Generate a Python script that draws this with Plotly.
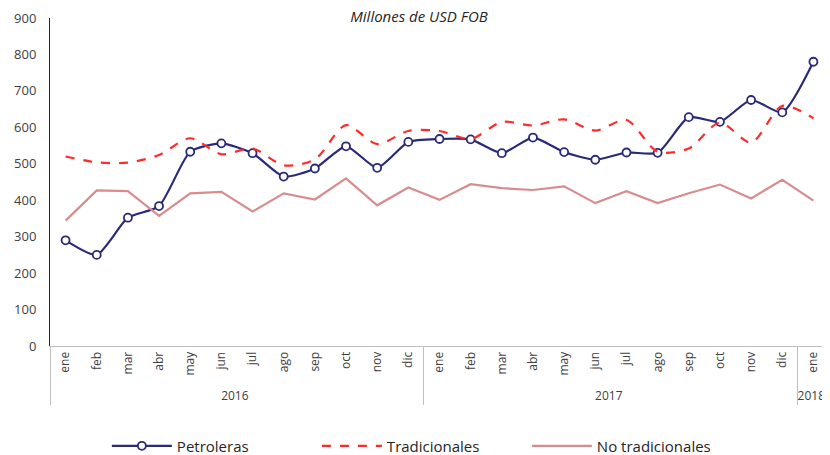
import plotly.graph_objects as go

years = ["2016"] * 12 + ["2017"] * 12 + ["2018"]
months = ["ene", "feb", "mar", "abr", "may", "jun", "jul", "ago", "sep", "oct", "nov", "dic"] * 2 + ["ene"]

petroleras = [290, 250, 352, 384, 533, 556, 529, 465, 487, 548, 489, 560,
              568, 567, 529, 572, 532, 511, 531, 530, 628, 615, 675, 641, 780]
tradicionales = [520, 504, 503, 524, 570, 526, 542, 496, 512, 606, 554, 590,
                 590, 568, 615, 605, 622, 591, 620, 533, 542, 613, 558, 659, 625]
no_tradicionales = [344, 427, 425, 357, 419, 423, 369, 419, 402, 460, 386, 435,
                    401, 444, 433, 428, 438, 392, 425, 392, 419, 443, 405, 456, 399]

x = [years, months]
font_family = "Open Sans, Liberation Sans, sans-serif"

fig = go.Figure()
fig.add_trace(go.Scatter(
    x=x, y=petroleras, name="Petroleras", mode="lines+markers",
    line=dict(color="#2B2A78", width=2.2, shape="spline", smoothing=0.6),
    marker=dict(symbol="circle", size=8, color="white", line=dict(color="#2B2A78", width=1.8)),
))
fig.add_trace(go.Scatter(
    x=x, y=tradicionales, name="Tradicionales", mode="lines",
    line=dict(color="#FF2B2B", width=2.2, dash="dash", shape="spline", smoothing=0.8),
))
fig.add_trace(go.Scatter(
    x=x, y=no_tradicionales, name="No tradicionales", mode="lines",
    line=dict(color="#D98C8E", width=2.2),
))

# page body has an 8px default margin, so the figure is sized to fit inside the window
fig.update_layout(
    width=822, height=447,
    margin=dict(l=42, r=1, t=10, b=109, autoexpand=False),
    paper_bgcolor="white", plot_bgcolor="white",
    font=dict(family=font_family, size=13, color="#404040"),
    title=dict(text="<i>Millones de USD FOB</i>", x=0.5, xanchor="center",
               y=0.993, yanchor="top", font=dict(size=15, color="#262626")),
    showlegend=True,
    legend=dict(orientation="h", x=0.073, xanchor="left", y=-0.305, yanchor="middle",
                font=dict(size=15, color="#262626"), entrywidth=135, itemwidth=60),
    xaxis=dict(
        type="multicategory", showgrid=False, showline=True, linecolor="#BFBFBF", linewidth=1,
        tickangle=-90, tickfont=dict(size=12, color="#404040"), automargin=False,
        showdividers=True, dividercolor="#BFBFBF", dividerwidth=1,
        range=[-0.5, 24.5], ticks="",
    ),
    yaxis=dict(
        range=[0, 900], dtick=100, showgrid=False, showline=True, linecolor="#262626",
        linewidth=1, zeroline=False, ticks="", tickfont=dict(size=13, color="#404040"),
        ticklabelstandoff=10, automargin=False,
    ),
)

fig.write_html("out.html")
